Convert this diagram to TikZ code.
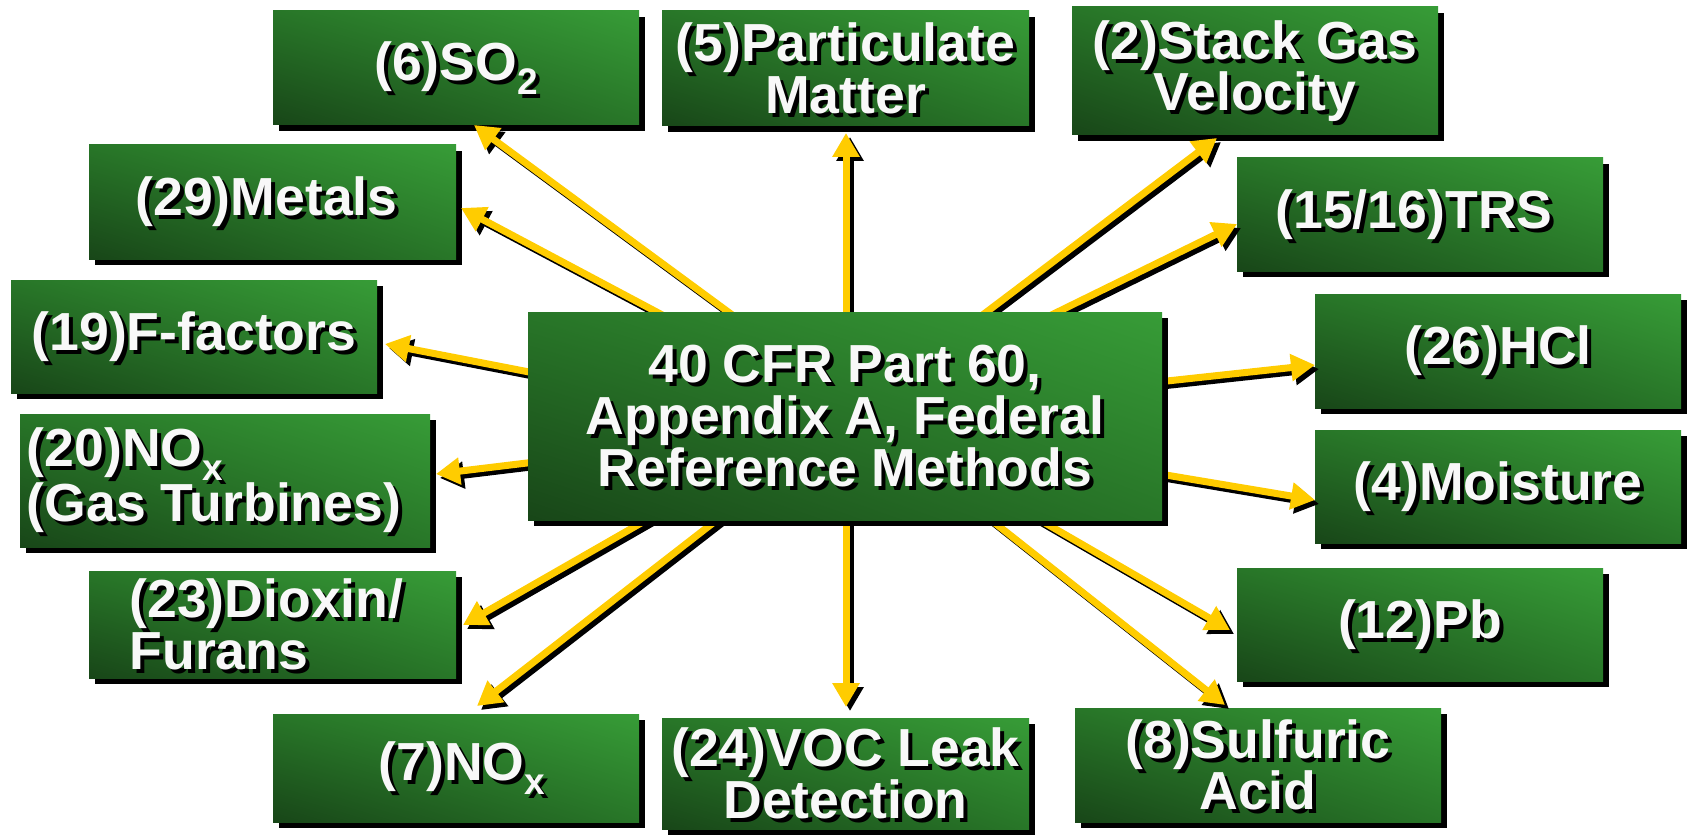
\documentclass[tikz,border=0pt]{standalone}
\usepackage{fontspec}
\setmainfont{Liberation Sans}
\usetikzlibrary{arrows.meta,shadows,shadings,calc}

\definecolor{gdark}{RGB}{24,70,24}
\definecolor{gmid}{RGB}{40,118,40}
\definecolor{glight}{RGB}{55,156,55}
\definecolor{arrowgold}{RGB}{255,204,0}
\definecolor{txtwhite}{RGB}{248,248,248}

\tikzset{
  gbox/.style={rectangle, inner sep=0pt, draw=none,
    lower left=gdark, upper left=gmid, upper right=glight, lower right=gmid,
    drop shadow={shadow xshift=3pt, shadow yshift=-3pt, opacity=1, fill=black}},
  boxtext/.style={font=\bfseries\fontsize{26.8}{25.8}\selectfont, align=center,
    inner sep=0pt, text=txtwhite},
  boxshadow/.style={boxtext, text=black},
  flow/.style={line width=3.5pt, draw=arrowgold,
    -{Triangle[length=12pt,width=13pt]}},
  flowshadow/.style={flow, draw=black,
    transform canvas={shift={(2pt,-2pt)}}},
}

% subscript used in chemical formulas
\newcommand\chemsub[1]{\raisebox{-7pt}{\fontsize{18.5}{18.5}\selectfont #1}}

% #1 name, #2..#5 corners x1,y1,x2,y2 (pixel units, y downward),
% #6 extra label options, #7 label
\newcommand\methodbox[7]{%
  \node[gbox, minimum width={(#4-#2)*0.5pt}, minimum height={(#5-#3)*0.5pt}]
    (#1) at ({(#2+#4)/2},{(#3+#5)/2}) {};
  \node[boxshadow, #6] at ($(#1.center)+(4,4)$) {#7};
  \node[boxtext, #6] (#1-label) at (#1.center) {#7};
}

\begin{document}
\begin{tikzpicture}[x=0.5pt, y=-0.5pt]
  \fill[white] (0,0) rectangle (1689,834);
  \useasboundingbox (0,0) rectangle (1689,834);

  % outer method boxes
  \methodbox{so2}{273}{11}{639}{125}{}{(6)SO\chemsub{2}}
  \methodbox{pm}{662}{11}{1029}{126}{}{(5)Particulate\\Matter}
  \methodbox{stack}{1072}{7}{1438}{135}{}{(2)Stack Gas\\Velocity}
  \methodbox{metals}{89}{145}{456}{259}{xshift=-3pt}{(29)Metals}
  \methodbox{trs}{1237}{158}{1603}{271}{xshift=-3pt}{(15/16)TRS}
  \methodbox{ff}{11}{280}{377}{393}{}{(19)F-factors}
  \methodbox{hcl}{1315}{294}{1681}{408}{}{(26)HCl}
  \methodbox{noxgt}{20}{414}{430}{547}{align=left, xshift=-5.5pt}{(20)NO\chemsub{x}\\(Gas Turbines)}
  \methodbox{moist}{1315}{430}{1681}{543}{}{(4)Moisture}
  \methodbox{diox}{89}{571}{456}{678}{align=left, xshift=-3pt}{(23)Dioxin/\\Furans}
  \methodbox{pb}{1237}{568}{1603}{681}{}{(12)Pb}
  \methodbox{nox}{273}{714}{639}{822}{xshift=3pt}{(7)NO\chemsub{x}}
  \methodbox{voc}{662}{718}{1029}{829}{}{(24)VOC Leak\\Detection}
  \methodbox{sulf}{1075}{708}{1441}{822}{}{(8)Sulfuric\\Acid}

  % arrow start points (hidden under the central box) and tips
  \coordinate (s-so2)    at (750,328);  \coordinate (t-so2)    at (474,125);
  \coordinate (s-metals) at (683,326);  \coordinate (t-metals) at (461,208);
  \coordinate (s-ff)     at (560,378);  \coordinate (t-ff)     at (385,344);
  \coordinate (s-noxgt)  at (560,459);  \coordinate (t-noxgt)  at (436,474);
  \coordinate (s-diox)   at (676,503);  \coordinate (t-diox)   at (463,625);
  \coordinate (s-nox)    at (740,502);  \coordinate (t-nox)    at (477,706);
  \coordinate (s-voc)    at (846,500);  \coordinate (t-voc)    at (846,707);
  \coordinate (s-pm)     at (846,330);  \coordinate (t-pm)     at (846,133);
  \coordinate (s-stack)  at (964,329);  \coordinate (t-stack)  at (1217,138);
  \coordinate (s-trs)    at (1031,325); \coordinate (t-trs)    at (1237,224);
  \coordinate (s-hcl)    at (1130,385); \coordinate (t-hcl)    at (1315,365);
  \coordinate (s-moist)  at (1130,469); \coordinate (t-moist)  at (1315,500);
  \coordinate (s-pb)     at (1014,505); \coordinate (t-pb)     at (1230,630);
  \coordinate (s-sulf)   at (967,501);  \coordinate (t-sulf)   at (1225,705);

  \foreach \m in {so2,metals,ff,noxgt,diox,nox,voc,pm,stack,trs,hcl,moist,pb,sulf}
    \draw[flowshadow] (s-\m) -- (t-\m);
  \foreach \m in {so2,metals,ff,noxgt,diox,nox,voc,pm,stack,trs,hcl,moist,pb,sulf}
    \draw[flow] (s-\m) -- (t-\m);

  % central box
  \methodbox{cfr}{528}{312}{1162}{520}{}{40 CFR Part 60,\\Appendix A, Federal\\Reference Methods}
\end{tikzpicture}
\end{document}
